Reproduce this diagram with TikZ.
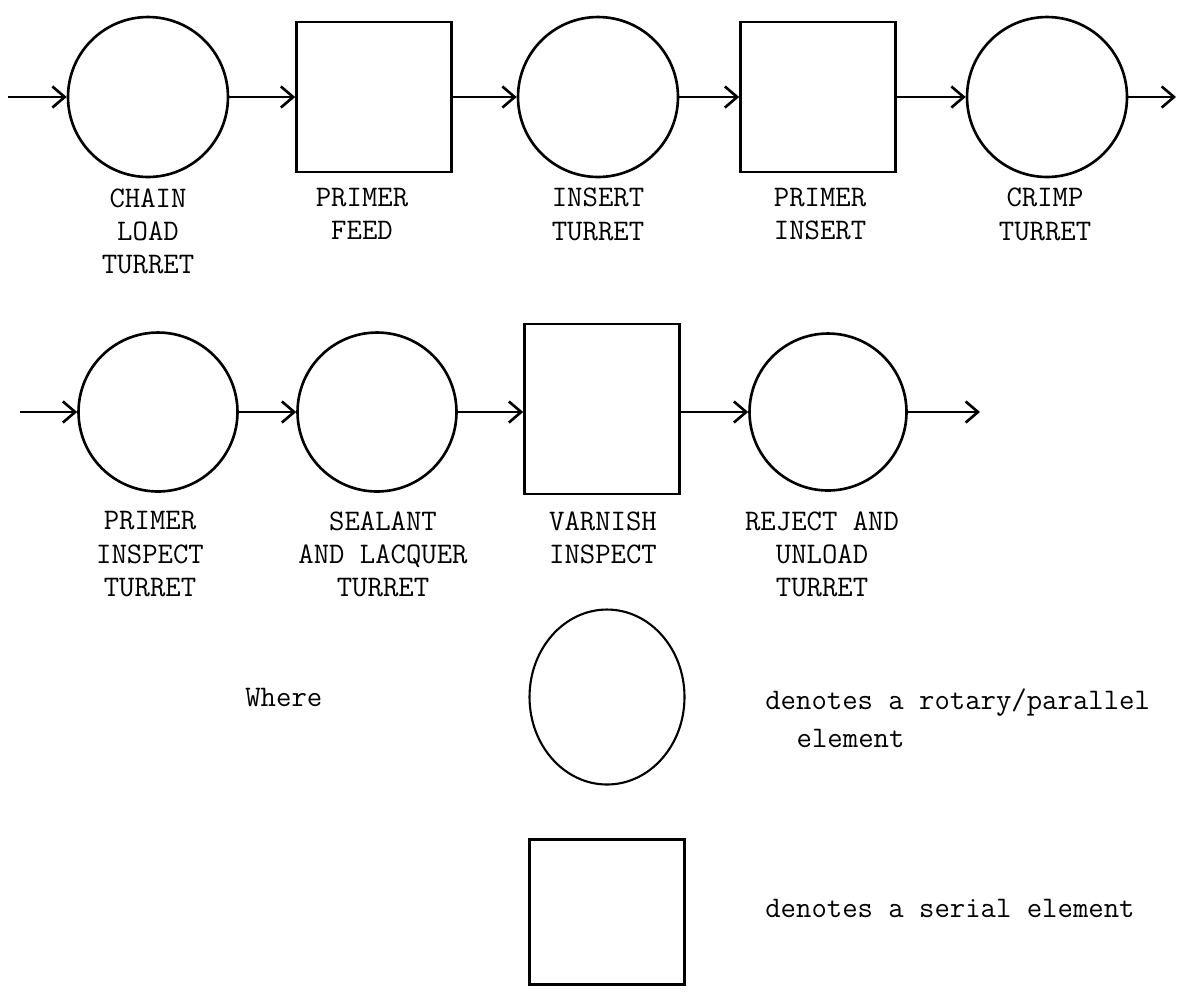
\documentclass[tikz,border=0pt]{standalone}
\usetikzlibrary{arrows.meta,shapes.geometric}
\begin{document}
\begin{tikzpicture}[x=0.02cm,y=-0.02cm,
  turret/.style={draw,line width=1.5pt,circle,minimum size=3.2cm,inner sep=0pt},
  serial/.style={draw,line width=1.5pt,rectangle,minimum width=3.1cm,minimum height=3.0cm,inner sep=0pt},
  lbl/.style={anchor=north,align=center,inner sep=0pt,font=\ttfamily\fontsize{17}{19}\selectfont},
  txt/.style={inner sep=0pt,font=\ttfamily\fontsize{17}{22}\selectfont},
  arr/.style={line width=1.4pt,-{Straight Barb[length=7pt,width=12pt,line width=1.5pt]}}]
\useasboundingbox (0,0) rectangle (1185,992);
% row 1
\node[turret] (c1) at (148,97) {};
\node[serial] (s1) at (374,97) {};
\node[turret] (c2) at (598,97) {};
\node[serial] (s2) at (818,97) {};
\node[turret] (c3) at (1047,97) {};
\coordinate (in1) at (8,97);
\coordinate (out1) at (1176,97);
\draw[arr] (in1) -- (c1.west);
\draw[arr] (c1.east) -- (s1.west);
\draw[arr] (s1.east) -- (c2.west);
\draw[arr] (c2.east) -- (s2.west);
\draw[arr] (s2.east) -- (c3.west);
\draw[arr] (c3.east) -- (out1);
\node[lbl] (l1) at (148,188) {CHAIN\\LOAD\\TURRET};
\node[lbl] (l2) at (362,188) {PRIMER\\FEED};
\node[lbl] (l3) at (598,188) {INSERT\\TURRET};
\node[lbl] (l4) at (820,188) {PRIMER\\INSERT};
\node[lbl] (l5) at (1045,188) {CRIMP\\TURRET};
% row 2
\node[turret,minimum size=3.18cm] (d1) at (158,412) {};
\node[turret,minimum size=3.18cm] (d2) at (377,412) {};
\node[serial,minimum height=3.4cm] (t1) at (602,409) {};
\node[turret,minimum size=3.14cm] (d3) at (828,412) {};
\coordinate (in2) at (20,412);
\coordinate (out2) at (980,412);
\draw[arr] (in2) -- (d1.west);
\draw[arr] (d1.east) -- (d2.west);
\draw[arr] (d2.east) -- (d2.east -| t1.west);
\draw[arr] (d2.east -| t1.east) -- (d3.west);
\draw[arr] (d3.east) -- (out2);
\node[lbl] (m1) at (150,511) {PRIMER\\INSPECT\\TURRET};
\node[lbl] (m2) at (383,511) {SEALANT\\AND LACQUER\\TURRET};
\node[lbl] (m3) at (603,511) {VARNISH\\INSPECT};
\node[lbl] (m4) at (822,511) {REJECT AND\\UNLOAD\\TURRET};
% legend
\node[txt,anchor=west] (where) at (245,697) {Where};
\node[draw,line width=1.2pt,ellipse,minimum width=3.1cm,minimum height=3.5cm,inner sep=0pt] (lc) at (607,697) {};
\node[txt,anchor=north west,align=left] (ld1) at (765,688) {denotes a rotary/parallel\\\hspace*{1.05em}element};
\node[draw,line width=1.2pt,rectangle,minimum width=3.1cm,minimum height=2.9cm,inner sep=0pt] (ls) at (607,912) {};
\node[txt,anchor=west] (ld2) at (765,908) {denotes a serial element};
\end{tikzpicture}
\end{document}
